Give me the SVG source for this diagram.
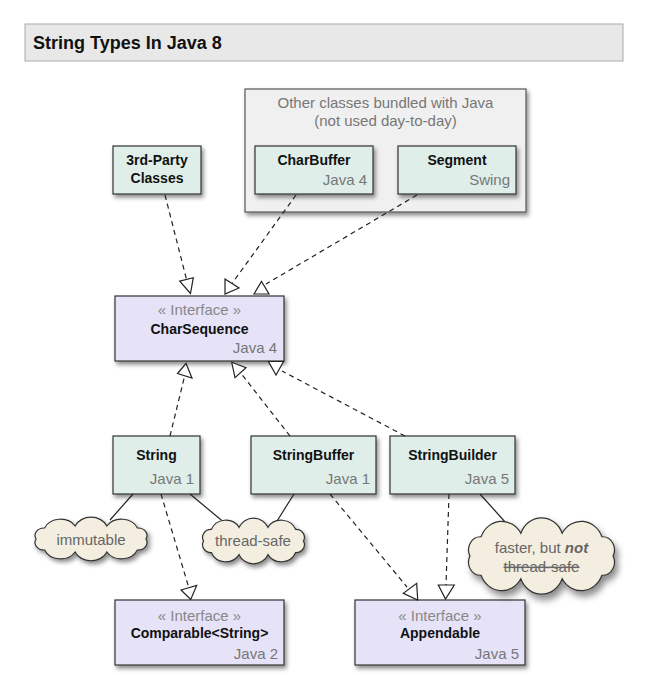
<svg xmlns="http://www.w3.org/2000/svg" xmlns:xlink="http://www.w3.org/1999/xlink" width="645" height="675" viewBox="0 0 645 675">
<defs>
<filter id="sh" x="-20%" y="-20%" width="140%" height="150%">
<feDropShadow dx="2" dy="3" stdDeviation="2" flood-color="#000" flood-opacity="0.45"/>
</filter>
<path id="cloud" d="M5,20 A7.5,7.5 0 0 1 12,9 A14,14 0 0 1 37,7 A14,14 0 0 1 63,7 A14,14 0 0 1 88,9 A7.5,7.5 0 0 1 95,20 A7.5,7.5 0 0 1 88,31 A14,14 0 0 1 63,33 A14,14 0 0 1 37,33 A14,14 0 0 1 12,31 A7.5,7.5 0 0 1 5,20 Z" vector-effect="non-scaling-stroke"/>
</defs>
<style>
text{font-family:"Liberation Sans",Arial,sans-serif}
.title{font-size:18px;font-weight:bold;fill:#111}
.name{font-size:14px;font-weight:bold;fill:#111;text-anchor:middle}
.ver{font-size:15px;fill:#777;text-anchor:end}
.ster{font-size:15px;fill:#888;text-anchor:middle}
.grp{font-size:15px;fill:#777;text-anchor:middle}
.note{font-size:15px;fill:#666;text-anchor:middle}
.cls{fill:#dfeee9;stroke:#333;stroke-width:1.2;filter:url(#sh)}
.ifc{fill:#e6e3f9;stroke:#333;stroke-width:1.2;filter:url(#sh)}
.cl{fill:#f3eee0;stroke:#333;stroke-width:1.2;filter:url(#sh)}
.dash{fill:none;stroke:#222;stroke-width:1.2;stroke-dasharray:5,4}
.sol{fill:none;stroke:#222;stroke-width:1.2}
.head{fill:#fff;stroke:#222;stroke-width:1.2;stroke-linejoin:miter}
</style>
<rect width="645" height="675" fill="#fff"/>
<g id="title">
<rect x="25" y="24" width="598" height="37" fill="#e8e8e8" stroke="#aaa" stroke-width="1"/>
<text class="title" x="33" y="49">String Types In Java 8</text>
</g>
<g id="other-classes">
<rect x="245" y="89" width="281" height="123" fill="#f0f0f0" stroke="#555" stroke-width="1.2" filter="url(#sh)"/>
<text class="grp" x="385.5" y="108">Other classes bundled with Java</text>
<text class="grp" x="385.5" y="126">(not used day-to-day)</text>
</g>
<g id="third-party">
<rect class="cls" x="113" y="146" width="88" height="48"/>
<text class="name" x="157" y="165">3rd-Party</text>
<text class="name" x="157" y="183">Classes</text>
</g>
<g id="charbuffer">
<rect class="cls" x="255" y="146" width="118" height="48"/>
<text class="name" x="314" y="165">CharBuffer</text>
<text class="ver" x="367" y="185">Java 4</text>
</g>
<g id="segment">
<rect class="cls" x="398" y="146" width="118" height="48"/>
<text class="name" x="457" y="165">Segment</text>
<text class="ver" x="510" y="185">Swing</text>
</g>
<g id="charsequence">
<rect class="ifc" x="115" y="296" width="169" height="65"/>
<text class="ster" x="199.5" y="315">« Interface »</text>
<text class="name" x="199.5" y="334">CharSequence</text>
<text class="ver" x="277" y="353">Java 4</text>
</g>
<g id="string">
<rect class="cls" x="113" y="436" width="87" height="58"/>
<text class="name" x="156.5" y="460">String</text>
<text class="ver" x="194" y="484">Java 1</text>
</g>
<g id="stringbuffer">
<rect class="cls" x="251" y="436" width="125" height="58"/>
<text class="name" x="313.5" y="460">StringBuffer</text>
<text class="ver" x="370" y="484">Java 1</text>
</g>
<g id="stringbuilder">
<rect class="cls" x="390" y="436" width="125" height="58"/>
<text class="name" x="452.5" y="460">StringBuilder</text>
<text class="ver" x="509" y="484">Java 5</text>
</g>
<g id="comparable">
<rect class="ifc" x="115" y="600" width="169" height="65"/>
<text class="ster" x="199.5" y="621">« Interface »</text>
<text class="name" x="199.5" y="638">Comparable&lt;String&gt;</text>
<text class="ver" x="278" y="659">Java 2</text>
</g>
<g id="appendable">
<rect class="ifc" x="355" y="600" width="170" height="65"/>
<text class="ster" x="440" y="621">« Interface »</text>
<text class="name" x="440" y="638">Appendable</text>
<text class="ver" x="519" y="659">Java 5</text>
</g>
<g id="connectors">
<path class="dash" d="M165,195 L186.5,279.4"/>
<polygon class="head" points="190.5,293.5 179.7,281.1 193.3,277.7"/>
<path class="dash" d="M296,195 L232,283.5"/>
<polygon class="head" points="225,279 239,288 225,294"/>
<path class="dash" d="M417,195 L266,284"/>
<polygon class="head" points="254,294 269,294 261.5,281.5"/>
<path class="dash" d="M170,436 L184.7,375.7"/>
<polygon class="head" points="186,363.5 177.5,373.5 192,378"/>
<path class="dash" d="M290,436 L240.5,372.7"/>
<polygon class="head" points="231.7,362.3 246,367.7 235,377.7"/>
<path class="dash" d="M405,436 L282,371"/>
<polygon class="head" points="268.5,361.5 283.5,361.5 276,375"/>
<path class="dash" d="M161,494 L188.8,587.7"/>
<polygon class="head" points="181,590 196.7,585.5 190.7,599.5"/>
<path class="dash" d="M330,494 L407,587"/>
<polygon class="head" points="416.7,583.3 417.7,600 403.3,593.3"/>
<path class="dash" d="M449,494 L446,585"/>
<polygon class="head" points="438.3,585 454.3,585 445.5,599"/>
<path class="sol" d="M133,494 L110,520"/>
<path class="sol" d="M190,494 L232,529"/>
<path class="sol" d="M294,494 L272,529"/>
<path class="sol" d="M480,494 L506,523"/>
</g>
<g id="note-immutable">
<use xlink:href="#cloud" class="cl" transform="translate(30,519) scale(1.22,1)"/>
<text class="note" x="91" y="545">immutable</text>
</g>
<g id="note-threadsafe">
<use xlink:href="#cloud" class="cl" transform="translate(198,520) scale(1.11,1.05)"/>
<text class="note" x="253" y="546">thread-safe</text>
</g>
<g id="note-faster">
<use xlink:href="#cloud" class="cl" transform="translate(462,521) scale(1.59,1.75)"/>
<text class="note" x="541.5" y="553">faster, but <tspan font-weight="bold" font-style="italic">not</tspan></text>
<text class="note" x="541.5" y="572" text-decoration="line-through">thread-safe</text>
</g>
</svg>
